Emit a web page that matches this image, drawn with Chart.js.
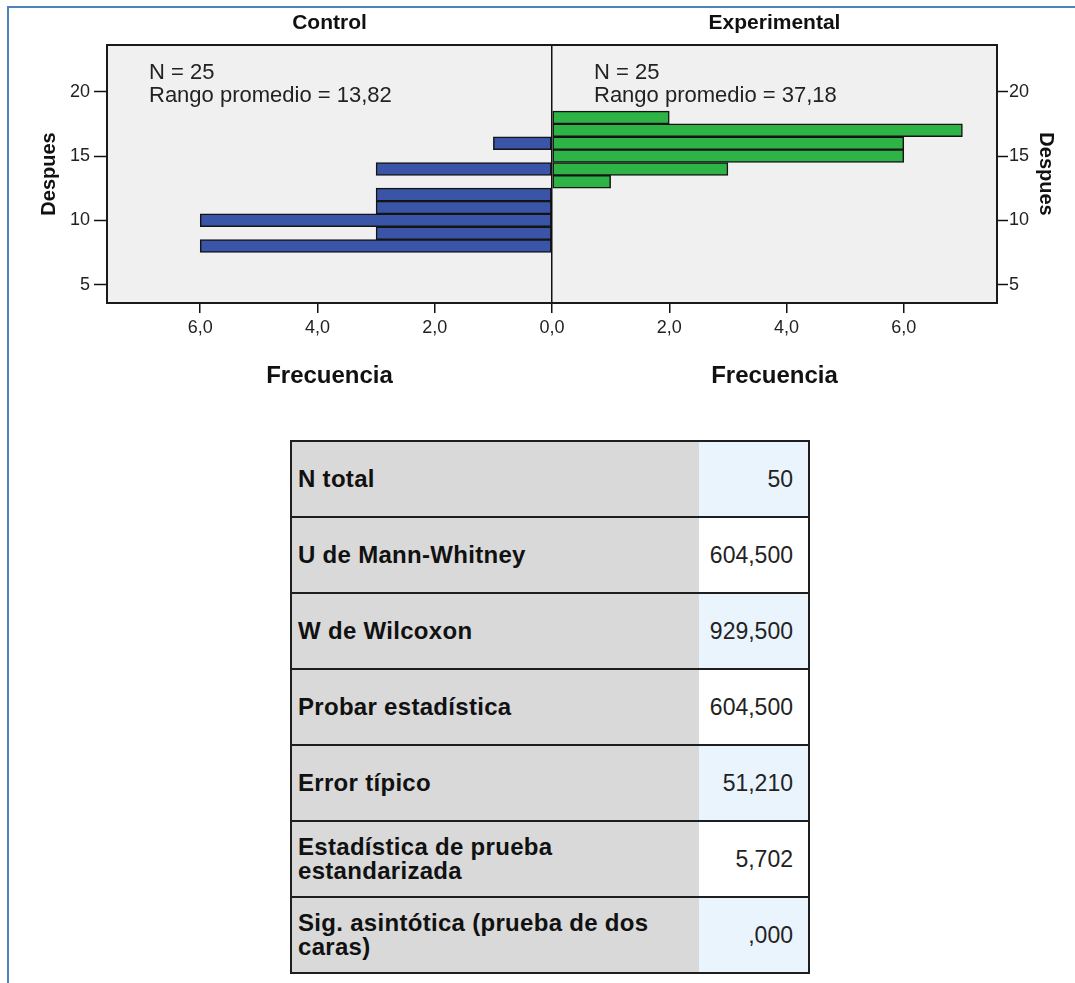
<!DOCTYPE html>
<html lang="es">
<head>
<meta charset="utf-8">
<title>Prueba U de Mann-Whitney para muestras independientes</title>
<script src="https://cdn.jsdelivr.net/npm/chart.js@4.4.1/dist/chart.umd.min.js"></script>
<style>
  html, body { margin: 0; padding: 0; background: #fff; width: 1075px; height: 983px; overflow: hidden;
    font-family: "Liberation Sans", Arial, sans-serif; }
  #frame { position: absolute; left: 7px; top: 6px; width: 1100px; height: 1000px;
    border-left: 2px solid #4f81bd; border-top: 2px solid #4f81bd; }
  #hist { position: absolute; left: 0; top: 0; }
  #stats { position: absolute; left: 290px; top: 440px; width: 520px; border-collapse: collapse;
    border: 2px solid #1e1e1e; }
  #stats td { height: 74px; padding: 0; border-top: 2px solid #1e1e1e; border-bottom: 2px solid #1e1e1e; }
  #stats td.lab { width: 401px; padding-left: 6px; background: #d9d9d9; color: #111;
    font-weight: bold; font-size: 24px; line-height: 24px; letter-spacing: 0.3px; }
  #stats td.val { text-align: right; padding-right: 15px; color: #222; font-size: 23px; background: #fff; }
  #stats tr.tint td.val { background: #eaf4fd; }
</style>
</head>
<body>
<div id="frame"></div>
<canvas id="hist" width="1075" height="410"></canvas>
<table id="stats"></table>

<script>
// Despues scores (bin centres) and their frequencies per group
const controlScores = [8, 9, 10, 11, 12, 14, 16];
const controlFreq   = [6, 3, 6, 3, 3, 3, 1];
const experimentalScores = [13, 14, 15, 16, 17, 18];
const experimentalFreq   = [1, 3, 6, 6, 7, 2];

const groupNames = ["Control", "Experimental"];
const groupN = [25, 25];
const meanRanks = ["13,82", "37,18"];

const freqTicks = [-6, -4, -2, 0, 2, 4, 6];
const despuesTicks = [5, 10, 15, 20];

// Test summary table
const statLabels = [
  "N total",
  "U de Mann-Whitney",
  "W de Wilcoxon",
  "Probar estadística",
  "Error típico",
  "Estadística de prueba<br>estandarizada",
  "Sig. asintótica (prueba de dos<br>caras)"
];
const statValues = ["50", "604,500", "929,500", "604,500", "51,210", "5,702", ",000"];

const FONT = '"Liberation Sans", Arial, sans-serif';
const TEXT = '#222';

// ---- table ----
const table = document.getElementById('stats');
statLabels.forEach((lab, i) => {
  const tr = document.createElement('tr');
  if (i % 2 === 0) tr.className = 'tint';
  tr.innerHTML = '<td class="lab">' + lab + '</td><td class="val">' + statValues[i] + '</td>';
  table.appendChild(tr);
});

// ---- back-to-back histogram ----
const fmt = v => Math.abs(v).toFixed(1).replace('.', ',');

const panelDecor = {
  id: 'panelDecor',
  beforeDraw(chart) {
    const { ctx, chartArea: a } = chart;
    ctx.save();
    ctx.fillStyle = '#f0f0f0';
    ctx.fillRect(a.left, a.top, a.right - a.left, a.bottom - a.top);
    ctx.restore();
  },
  afterDraw(chart) {
    const { ctx, chartArea: a } = chart;
    const x0 = chart.scales.x.getPixelForValue(0);
    ctx.save();
    // plot frame
    ctx.strokeStyle = '#1a1a1a';
    ctx.lineWidth = 2;
    ctx.strokeRect(a.left, a.top, a.right - a.left, a.bottom - a.top);

    const halves = [[a.left, x0], [x0, a.right]];
    ctx.fillStyle = '#111';
    ctx.textAlign = 'center';
    ctx.textBaseline = 'middle';
    halves.forEach((h, i) => {
      const cx = (h[0] + h[1]) / 2;
      ctx.font = 'bold 21px ' + FONT;
      ctx.fillText(groupNames[i], cx, a.top - 22);
      ctx.font = 'bold 24px ' + FONT;
      ctx.fillText('Frecuencia', cx, a.bottom + 73);
    });

    ctx.fillStyle = TEXT;
    ctx.textAlign = 'left';
    ctx.font = '22px ' + FONT;
    halves.forEach((h, i) => {
      ctx.fillText('N = ' + groupN[i], h[0] + 42, a.top + 28);
      ctx.fillText('Rango promedio = ' + meanRanks[i], h[0] + 42, a.top + 51);
    });
    ctx.restore();
  }
};

const yCommon = {
  type: 'linear',
  min: 3.57,
  max: 23.64,
  offset: false,
  afterBuildTicks: s => { s.ticks = despuesTicks.map(v => ({ value: v })); },
  ticks: { color: TEXT, font: { family: FONT, size: 18 }, autoSkip: false },
  border: { display: false },
  title: { display: true, text: 'Despues', color: '#111',
           font: { family: FONT, size: 20, weight: 'bold' } }
};

new Chart(document.getElementById('hist'), {
  type: 'bar',
  data: {
    datasets: [
      {
        label: groupNames[0],
        data: controlScores.map((s, i) => ({ y: s, x: -controlFreq[i] })),
        backgroundColor: '#3a55a7',
        borderColor: '#141414',
        borderWidth: 1.5,
        borderSkipped: false,
        grouped: false,
        barPercentage: 1,
        categoryPercentage: 1
      },
      {
        label: groupNames[1],
        data: experimentalScores.map((s, i) => ({ y: s, x: experimentalFreq[i] })),
        backgroundColor: '#2eb446',
        borderColor: '#141414',
        borderWidth: 1.5,
        borderSkipped: false,
        grouped: false,
        barPercentage: 1,
        categoryPercentage: 1
      }
    ]
  },
  options: {
    indexAxis: 'y',
    responsive: false,
    animation: false,
    devicePixelRatio: 1,
    layout: { padding: { top: 45, left: 0, right: 0, bottom: 0 } },
    plugins: { legend: { display: false }, tooltip: { enabled: false } },
    scales: {
      x: {
        type: 'linear',
        position: 'bottom',
        min: -7.59,
        max: 7.59,
        offset: false,
        afterBuildTicks: s => { s.ticks = freqTicks.map(v => ({ value: v })); },
        afterFit: s => { s.height = 107; },
        ticks: { callback: v => fmt(v), color: TEXT, font: { family: FONT, size: 18 },
                 padding: 4, maxRotation: 0, autoSkip: false },
        grid: {
          offset: false,
          drawOnChartArea: true,
          color: c => (c.tick && c.tick.value === 0) ? '#111' : 'rgba(0,0,0,0)',
          lineWidth: 1.5,
          tickColor: '#111',
          tickWidth: 1.5,
          tickLength: 10
        },
        border: { display: false }
      },
      y: Object.assign({}, yCommon, {
        position: 'left',
        afterFit: s => { s.width = 107; },
        ticks: Object.assign({}, yCommon.ticks, { padding: 4 }),
        grid: { offset: false, drawOnChartArea: false, tickColor: '#111', tickWidth: 1.5, tickLength: 13 },
        title: Object.assign({}, yCommon.title, { padding: { top: 37, bottom: 0 } })
      }),
      y2: Object.assign({}, yCommon, {
        position: 'right',
        afterFit: s => { s.width = 78; },
        ticks: Object.assign({}, yCommon.ticks, { padding: 1 }),
        grid: { offset: false, drawOnChartArea: false, tickColor: '#111', tickWidth: 1.5, tickLength: 11 },
        title: Object.assign({}, yCommon.title, { padding: { top: 17, bottom: 0 } })
      })
    }
  },
  plugins: [panelDecor]
});
</script>
</body>
</html>
